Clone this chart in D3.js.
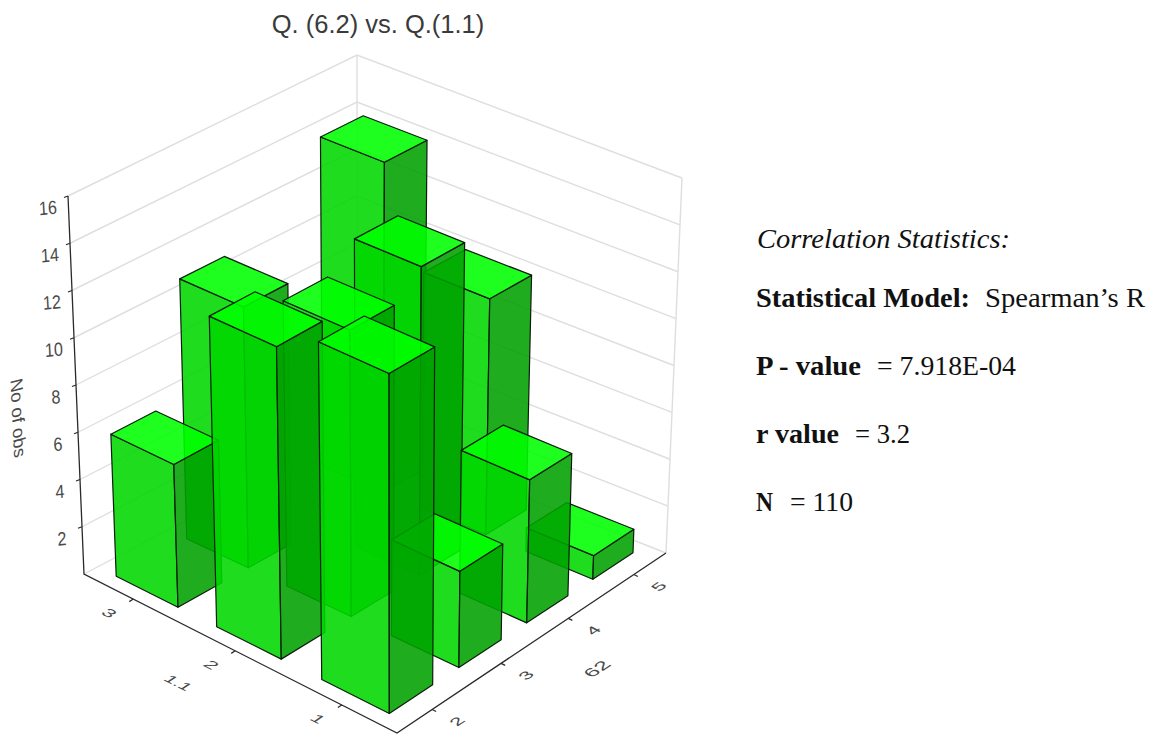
<!DOCTYPE html>
<html>
<head>
<meta charset="utf-8">
<script src="https://cdn.jsdelivr.net/npm/d3@7"></script>
<style>
  html, body { margin: 0; padding: 0; background: #fff; }
  svg { display: block; }
</style>
</head>
<body>
<div id="chart"></div>
<script>
// Chart data
const cols62 = [2, 3, 4, 5];
const rows11 = [3, 2, 1];
const countsRow3 = [6, 11, 0, 14];
const countsRow2 = [13, 12, 13, 10];
const countsRow1 = [14, 4, 6, 1];
const zTicks = [2, 4, 6, 8, 10, 12, 14, 16];
const gridLevels = [0, 2, 4, 6, 8, 10, 12, 14, 16];

const titleText = "Q. (6.2) vs. Q.(1.1)";
const zLabel = "No of obs";
const rowLabel = "1.1";
const colLabel = "62";

const statHead = "Correlation Statistics:";
const statKeys = ["Statistical Model:", "P - value", "r value", "N"];
const statVals = ["Spearman\u2019s R", "= 7.918E-04", "= 3.2", "= 110"];

const width = 1153, height = 734;

const svg = d3.select("#chart").append("svg")
    .attr("width", width)
    .attr("height", height);

// Corners of the plot box on screen: [u, v] -> floor / ceiling point
const floorBox = { left: [84, 574], front: [397, 733], back: [357, 431], right: [666, 553] };
const topBox = { left: [68, 196], front: [397, 343], back: [357, 55], right: [682, 178] };

const x = d3.scaleBand().domain(cols62).range([0, 1]).padding(0.38).paddingOuter(0.19);
const y = d3.scaleBand().domain(rows11).range([0, 1]).padding(0.38).paddingOuter(0.19);
const z = d3.scaleLinear().domain([0, 16]).range([0, 1]);

const mix = (a, b, t) => a + (b - a) * t;
const mixPt = (a, b, t) => [mix(a[0], b[0], t), mix(a[1], b[1], t)];

// Perspective foreshortening along each floor axis
const warp = (t, w) => t / (t + w * (1 - t));

function onBox(box, u, v) {
    return mixPt(mixPt(box.left, box.front, v), mixPt(box.back, box.right, v), u);
}

// u along 6.2 axis, v along 1.1 axis, t along count axis (all 0..1)
function project(u, v, t) {
    const pu = warp(u, 0.95), pv = warp(v, 1.07);
    return mixPt(onBox(floorBox, pu, pv), onBox(topBox, pu, pv), t);
}

const line = d3.line();

// Walls
const wall = svg.append("g")
    .attr("fill", "none")
    .attr("stroke", "#dedede")
    .attr("stroke-width", 1.4);

gridLevels.forEach(level => {
    const t = z(level);
    wall.append("path").attr("d", line([project(0, 0, t), project(1, 0, t), project(1, 1, t)]));
});
wall.append("path").attr("d", line([project(1, 0, 0), project(1, 0, 1)]));
wall.append("path").attr("d", line([project(1, 1, 0), project(1, 1, 1)]));

// Bars, back to front
const bars = [];
[countsRow3, countsRow2, countsRow1].forEach((counts, r) => {
    counts.map((count, c) => ({ row: rows11[r], col: cols62[c], count }))
        .reverse()
        .forEach(d => { if (d.count > 0) bars.push(d); });
});

const barG = svg.selectAll(".bar")
    .data(bars)
  .enter().append("g")
    .attr("class", "bar")
    .attr("stroke", "#0c1c0c")
    .attr("stroke-width", 1.2)
    .attr("stroke-linejoin", "round");

function face(d, points) {
    return line(points.map(p => project(p[0], p[1], p[2]))) + "Z";
}

function corners(d) {
    return {
        u0: x(d.col), u1: x(d.col) + x.bandwidth(),
        v0: y(d.row), v1: y(d.row) + y.bandwidth(),
        t: z(d.count)
    };
}

barG.append("path")
    .attr("fill", "#00d700")
    .attr("fill-opacity", 0.88)
    .attr("d", d => {
        const k = corners(d);
        return face(d, [[k.u0, k.v0, 0], [k.u0, k.v1, 0], [k.u0, k.v1, k.t], [k.u0, k.v0, k.t]]);
    });

barG.append("path")
    .attr("fill", "#00a200")
    .attr("fill-opacity", 0.88)
    .attr("d", d => {
        const k = corners(d);
        return face(d, [[k.u0, k.v1, 0], [k.u1, k.v1, 0], [k.u1, k.v1, k.t], [k.u0, k.v1, k.t]]);
    });

barG.append("path")
    .attr("fill", "#00ff00")
    .attr("fill-opacity", 0.88)
    .attr("d", d => {
        const k = corners(d);
        return face(d, [[k.u0, k.v0, k.t], [k.u0, k.v1, k.t], [k.u1, k.v1, k.t], [k.u1, k.v0, k.t]]);
    });

// Axes
const axes = svg.append("g")
    .attr("fill", "none")
    .attr("stroke", "#2a2a2a")
    .attr("stroke-width", 1.3);

axes.append("path").attr("d", line([project(0, 0, 1), project(0, 0, 0), project(0, 1, 0), project(1, 1, 0)]));

zTicks.forEach(tick => {
    const p = project(0, 0, z(tick));
    axes.append("path").attr("d", line([p, [p[0] - 4, p[1] + 1.5]]));
});

const labelFont = "'Liberation Sans', Arial, sans-serif";
const labelColor = "#4a4a4a";

function addLabel(text, px, py, matrix, size) {
    svg.append("text")
        .attr("transform", "matrix(" + matrix.join(",") + "," + px + "," + py + ")")
        .attr("text-anchor", "middle")
        .attr("dominant-baseline", "central")
        .attr("font-family", labelFont)
        .attr("font-size", size)
        .attr("fill", labelColor)
        .text(text);
}

// Text lying on the floor plane
const rowMatrix = [0.89, 0.45, -0.62, 0.42];
const colMatrix = [0.83, -0.55, 0.66, 0.34];
const zMatrix = [0.95, -0.09, 0.06, 1.12];

rows11.forEach(row => {
    const p = project(0, y(row) + y.bandwidth() / 2, 0);
    axes.append("path").attr("d", line([p, [p[0] - 4, p[1] + 2.6]]));
    addLabel(row, p[0] - 24, p[1] + 14, rowMatrix, 20);
});

cols62.forEach(col => {
    const p = project(x(col) + x.bandwidth() / 2, 1, 0);
    axes.append("path").attr("d", line([p, [p[0] + 4, p[1] + 2]]));
    addLabel(col, p[0] + 25, p[1] + 12, colMatrix, 20);
});

zTicks.forEach(tick => {
    const p = project(0, 0, z(tick));
    addLabel(tick, p[0] - 20, p[1] + 12, zMatrix, 17);
});

addLabel(rowLabel, 178, 683, rowMatrix, 19);
addLabel(colLabel, 597, 669, colMatrix, 22);
addLabel(zLabel, 18, 418, [0.05, 1.02, -0.95, 0.25], 18);

// Title
svg.append("text")
    .attr("x", 378)
    .attr("y", 33)
    .attr("text-anchor", "middle")
    .attr("font-family", labelFont)
    .attr("font-size", 25.5)
    .attr("fill", "#3a3a3a")
    .text(titleText);

// Statistics block
const serif = "'Liberation Serif', 'Times New Roman', serif";
const statY = [307, 375, 443, 511];
const keyW = [214, 105, 83, 17];
const valX = [985, 877, 855, 790];
const valW = [160, 139, 55, 63];

const stats = svg.append("g")
    .attr("font-family", serif)
    .attr("font-size", 26.5)
    .attr("fill", "#111");

stats.append("text")
    .attr("x", 757)
    .attr("y", 248)
    .attr("font-style", "italic")
    .attr("textLength", 253)
    .attr("lengthAdjust", "spacingAndGlyphs")
    .text(statHead);

statKeys.forEach((key, i) => {
    stats.append("text")
        .attr("x", 756)
        .attr("y", statY[i])
        .attr("font-weight", "bold")
        .attr("textLength", keyW[i])
        .attr("lengthAdjust", "spacingAndGlyphs")
        .text(key);
    stats.append("text")
        .attr("x", valX[i])
        .attr("y", statY[i])
        .attr("textLength", valW[i])
        .attr("lengthAdjust", "spacingAndGlyphs")
        .text(statVals[i]);
});
</script>
</body>
</html>
